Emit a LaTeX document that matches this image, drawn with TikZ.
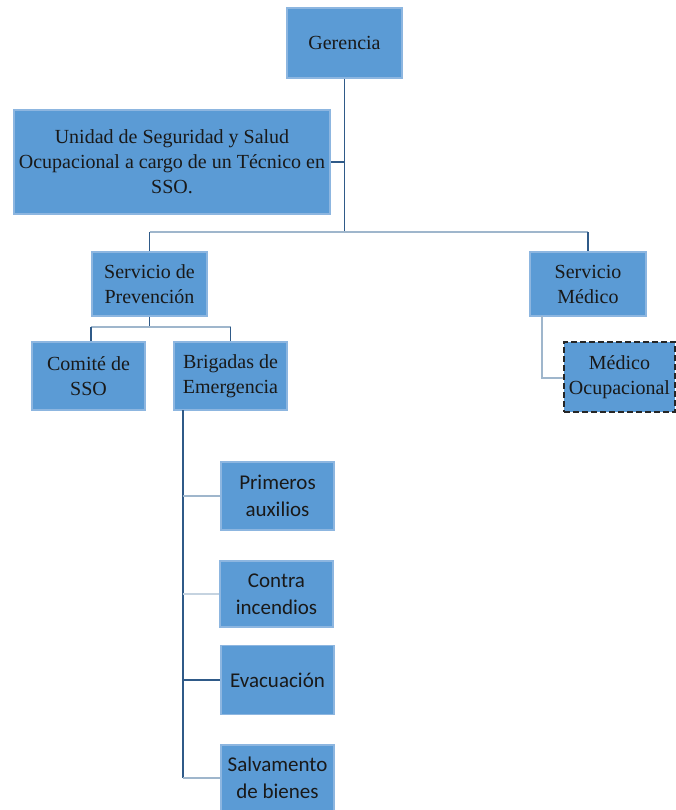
\documentclass[tikz,border=0pt]{standalone}
\usepackage{fontspec}
\setmainfont{Liberation Serif}
\newfontfamily\calib{Carlito}
\begin{document}
\begin{tikzpicture}[x=1pt,y=-1pt,
  box/.style={draw=boxedge, fill=boxfill, line width=1.6pt, align=center, inner sep=0pt,
     text=black!90, font=\fontsize{20}{25}\selectfont},
  cbox/.style={box, font=\calib\fontsize{21}{27}\selectfont},
  conn/.style={draw=linedark, line width=1.6pt},
  connl/.style={draw=linelight, line width=1.8pt}]
\definecolor{boxfill}{HTML}{5B9BD5}
\definecolor{boxedge}{HTML}{8DB6E0}
\definecolor{linedark}{HTML}{2F5A88}
\definecolor{linelight}{HTML}{9FB6CC}
\useasboundingbox (0,0) rectangle (676,810);
\fill[white] (0,0) rectangle (676,810);
% nodes
\node[box, minimum width=115pt, minimum height=70pt] (ger) at (344.5,43) {Gerencia};
\node[box, minimum width=316pt, minimum height=104pt] (uni) at (172,162) {Unidad de Seguridad y Salud\\Ocupacional a cargo de un Técnico en\\SSO.};
\node[box, minimum width=115pt, minimum height=64pt] (sp) at (149.5,284) {Servicio de\\Prevención};
\node[box, minimum width=116pt, minimum height=64pt] (sm) at (588,284) {Servicio\\Médico};
\node[box, minimum width=113pt, minimum height=68pt] (com) at (88.5,376) {Comité de\\SSO};
\node[box, minimum width=113pt, minimum height=68pt] (bri) at (230.5,376) {Brigadas de\\Emergencia};
\node[box, draw=black!85, dashed, dash pattern=on 6pt off 3pt, minimum width=111pt, minimum height=70pt] (mo) at (619.5,377) {Médico\\Ocupacional};
\node[cbox, minimum width=113pt, minimum height=68pt] (pa) at (277.5,496) {Primeros\\auxilios};
\node[cbox, minimum width=113pt, minimum height=66pt] (ci) at (276.5,594) {Contra\\incendios};
\node[cbox, minimum width=113pt, minimum height=69pt] (ev) at (277.5,680) {Evacuación};
\node[cbox, minimum width=113pt, minimum height=66pt] (sb) at (277.5,778) {Salvamento\\de bienes};
% coordinates
\coordinate (bus) at (ger.south |- 0,232);
\coordinate (busL) at (sp.north |- bus);
\coordinate (busR) at (sm.north |- bus);
\coordinate (spb) at (sp.south |- 0,327);
\coordinate (spL) at (91,327);
\coordinate (spR) at (bri.north |- spb);
\coordinate (smt) at (542,316);
\coordinate (smb) at (542,378);
\coordinate (brt) at (183,410);
% connectors
\draw[conn] (ger.south) -- (bus);
\draw[conn] (uni.east) -- (uni.east -| bus);
\draw[connl] (busL) -- (busR);
\draw[conn] (busL) -- (sp.north);
\draw[conn] (busR) -- (sm.north);
\draw[conn] (sp.south) -- (spb);
\draw[connl] (spL) -- (spR);
\draw[conn] (spL) -- (spL |- com.north);
\draw[conn] (spR) -- (bri.north);
\draw[connl] (smt) -- (smb) -- (mo.west |- smb);
\draw[conn] (brt) -- (brt |- sb.west);
\draw[connl] (brt |- pa.west) -- (pa.west);
\draw[draw=linelight!60, line width=1.6pt] (brt |- ci.west) -- (ci.west);
\draw[conn] (brt |- ev.west) -- (ev.west);
\draw[connl] (brt |- sb.west) -- (sb.west);
\end{tikzpicture}
\end{document}
